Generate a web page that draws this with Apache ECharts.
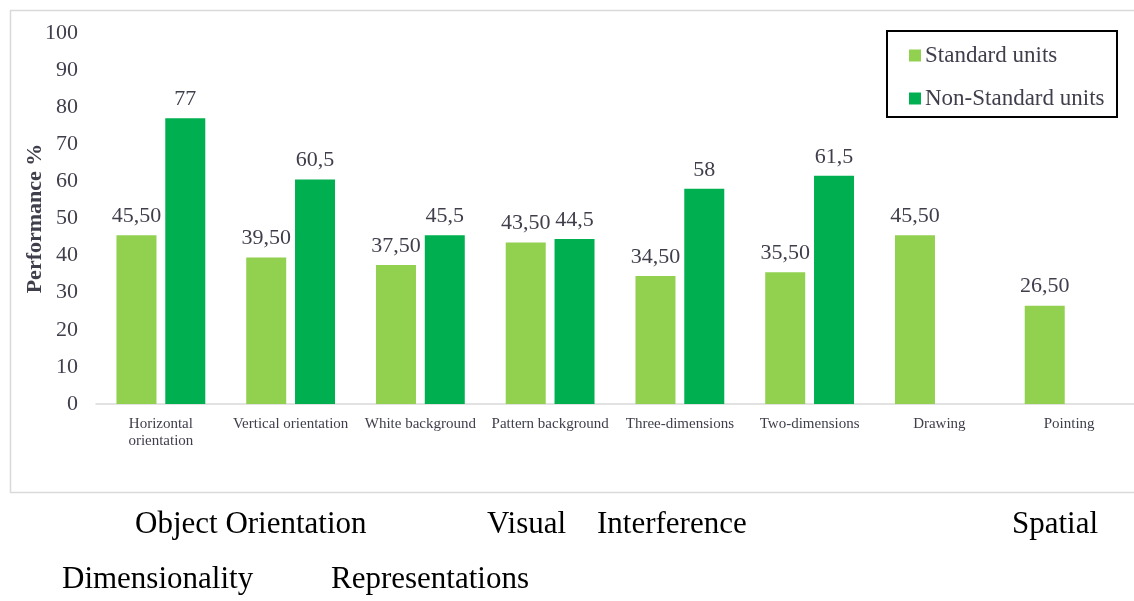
<!DOCTYPE html>
<html>
<head>
<meta charset="utf-8">
<script src="https://cdn.jsdelivr.net/npm/echarts@6/dist/echarts.min.js"></script>
<style>
  html, body { margin: 0; padding: 0; background: #fff; }
  #main { width: 1134px; height: 601px; }
</style>
</head>
<body>
<div id="main"></div>
<script>
var categories = ['Horizontal\norientation', 'Vertical orientation', 'White background', 'Pattern background',
  'Three-dimensions', 'Two-dimensions', 'Drawing', 'Pointing']
var standardUnits = [45.5, 39.5, 37.5, 43.5, 34.5, 35.5, 45.5, 26.5]
var nonStandardUnits = [77, 60.5, 45.5, 44.5, 58, 61.5, null, null]
var yTicks = [0, 100, 10]  // min, max, interval

var textColor = '#3f3f4c'
var serif = '"Liberation Serif", "DejaVu Serif", serif'

function comma(v) {
  return String(v).replace('.', ',')
}

// caption words under the chart box
function caption(text, x, y) {
  return { type: 'text', left: x, top: y, style: { text: text, font: '31px ' + serif, fill: '#000' } }
}

var myChart = echarts.init(document.getElementById('main'))
myChart.setOption({
  animation: false,
  textStyle: { fontFamily: serif, color: textColor },
  graphic: [
    {
      type: 'rect', left: 8, top: 8,
      shape: { width: 1140, height: 482 },
      style: { fill: 'none', stroke: '#d9d9d9', lineWidth: 1.5 }
    },
    {
      type: 'rect', left: 886, top: 30,
      shape: { width: 230, height: 86 },
      style: { fill: '#fff', stroke: '#000', lineWidth: 2 },
      z: 10
    },
    caption('Object Orientation', 135, 509),
    caption('Visual', 487, 509),
    caption('Interference', 597, 509),
    caption('Spatial', 1012, 509),
    caption('Dimensionality', 62, 564),
    caption('Representations', 331, 564)
  ],
  legend: {
    orient: 'vertical',
    left: 904,
    top: 39,
    itemWidth: 12,
    itemHeight: 12,
    itemGap: 20,
    icon: 'rect',
    z: 20,
    textStyle: { fontFamily: serif, fontSize: 23, color: textColor, padding: [0, 0, 0, -1] },
    data: ['Standard units', 'Non-Standard units']
  },
  grid: { left: 96, top: 33, width: 1040, bottom: 197 },
  xAxis: {
    type: 'category',
    data: categories,
    axisLine: { lineStyle: { color: '#d9d9d9', width: 1.5 } },
    axisTick: { show: false },
    axisLabel: { interval: 0, fontFamily: serif, fontSize: 15, color: textColor, margin: 12, lineHeight: 17 }
  },
  yAxis: {
    type: 'value',
    min: yTicks[0],
    max: yTicks[1],
    interval: yTicks[2],
    name: 'Performance %',
    nameLocation: 'middle',
    nameGap: 50,
    nameMoveOverlap: false,
    nameRotate: 90,
    nameTextStyle: { fontFamily: serif, fontSize: 22, fontWeight: 'bold', color: textColor },
    splitLine: { show: false },
    axisLine: { show: false },
    axisLabel: { fontFamily: serif, fontSize: 22, color: textColor, margin: 18 }
  },
  series: [
    {
      name: 'Standard units',
      type: 'bar',
      data: standardUnits,
      barWidth: 40,
      barGap: '22%',
      itemStyle: { color: '#92d050' },
      label: {
        show: true, position: 'top', distance: 8,
        fontFamily: serif, fontSize: 22, color: textColor,
        formatter: function (p) { return p.value.toFixed(2).replace('.', ',') }
      }
    },
    {
      name: 'Non-Standard units',
      type: 'bar',
      data: nonStandardUnits,
      barWidth: 40,
      itemStyle: { color: '#00b050' },
      label: {
        show: true, position: 'top', distance: 8,
        fontFamily: serif, fontSize: 22, color: textColor,
        formatter: function (p) { return comma(p.value) }
      }
    }
  ]
})
</script>
</body>
</html>
